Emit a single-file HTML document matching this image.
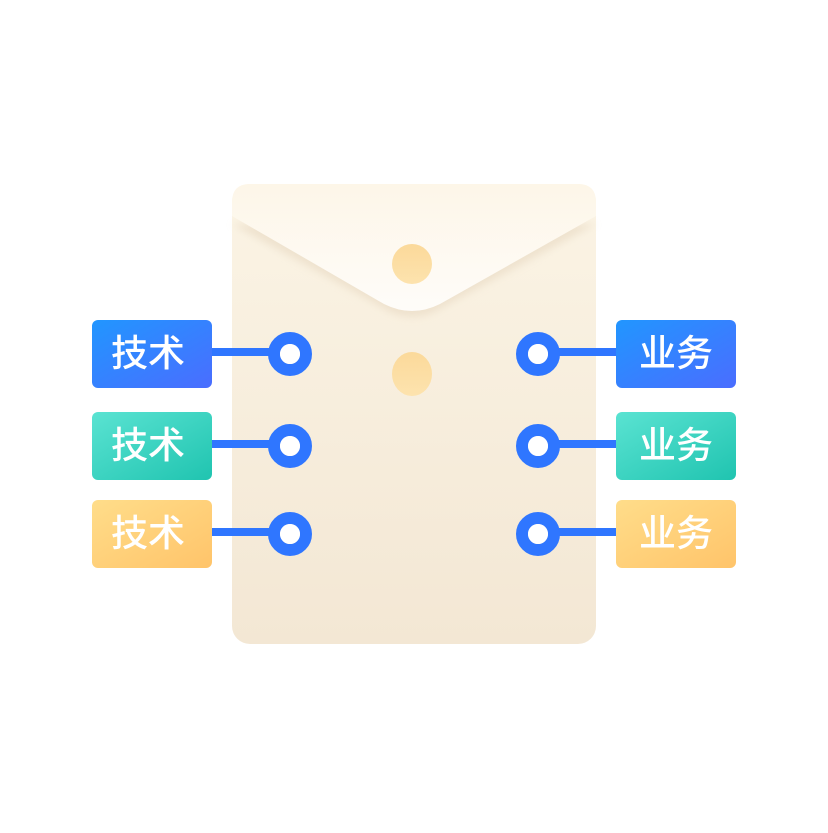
<!DOCTYPE html>
<html><head><meta charset="utf-8"><style>
body{margin:0;width:828px;height:828px;background:#fff;overflow:hidden}
.t{font-family:"Noto Sans CJK SC",sans-serif;font-size:37px;font-weight:500;fill:#fff;text-anchor:middle}
</style></head><body>
<svg width="828" height="828" viewBox="0 0 828 828" xmlns="http://www.w3.org/2000/svg">
<defs>
<linearGradient id="env" x1="0" y1="0" x2="0" y2="1"><stop offset="0" stop-color="#fbf4e5"/><stop offset="1" stop-color="#f3e7d4"/></linearGradient>
<linearGradient id="flap" x1="0" y1="0" x2="0" y2="1"><stop offset="0" stop-color="#fdf6e8"/><stop offset="1" stop-color="#fefcf9"/></linearGradient>
<linearGradient id="dot" x1="0" y1="0" x2="0" y2="1"><stop offset="0" stop-color="#fbd99a"/><stop offset="1" stop-color="#fde3ae"/></linearGradient>
<linearGradient id="b" x1="0" y1="0" x2="1" y2="1"><stop offset="0" stop-color="#2196ff"/><stop offset="1" stop-color="#4a6dff"/></linearGradient>
<linearGradient id="g" x1="0" y1="0" x2="1" y2="1"><stop offset="0" stop-color="#5ae3d2"/><stop offset="1" stop-color="#20c4b0"/></linearGradient>
<linearGradient id="y" x1="0" y1="0" x2="1" y2="1"><stop offset="0" stop-color="#ffdd8a"/><stop offset="1" stop-color="#ffc46a"/></linearGradient>
<filter id="sh" x="-10%" y="-10%" width="120%" height="130%"><feGaussianBlur stdDeviation="4"/></filter>
</defs>
<rect x="232" y="184" width="364" height="460" rx="18" fill="url(#env)"/>
<path d="M232 224 L390 312 Q412 322 434 312 L596 224 Z" fill="#eadcc6" opacity="0.7" filter="url(#sh)"/>
<path d="M232 202 Q232 184 250 184 L578 184 Q596 184 596 202 L596 216 L440 304 Q412 318 384 304 L232 216 Z" fill="url(#flap)"/>
<circle cx="412" cy="264" r="20" fill="url(#dot)"/>
<ellipse cx="412" cy="374" rx="20" ry="22" fill="url(#dot)"/>
<g fill="none" stroke="#2f76ff">
<line x1="210" y1="352" x2="272" y2="352" stroke-width="8"/>
<line x1="210" y1="444" x2="272" y2="444" stroke-width="8"/>
<line x1="210" y1="532" x2="272" y2="532" stroke-width="8"/>
<line x1="556" y1="352" x2="618" y2="352" stroke-width="8"/>
<line x1="556" y1="444" x2="618" y2="444" stroke-width="8"/>
<line x1="556" y1="532" x2="618" y2="532" stroke-width="8"/>
<circle cx="290" cy="354" r="16" stroke-width="12"/>
<circle cx="290" cy="446" r="16" stroke-width="12"/>
<circle cx="290" cy="534" r="16" stroke-width="12"/>
<circle cx="538" cy="354" r="16" stroke-width="12"/>
<circle cx="538" cy="446" r="16" stroke-width="12"/>
<circle cx="538" cy="534" r="16" stroke-width="12"/>
</g>
<g fill="#fff">
<circle cx="290" cy="354" r="10"/><circle cx="290" cy="446" r="10"/><circle cx="290" cy="534" r="10"/>
<circle cx="538" cy="354" r="10"/><circle cx="538" cy="446" r="10"/><circle cx="538" cy="534" r="10"/>
</g>
<rect x="92" y="320" width="120" height="68" rx="6" fill="url(#b)"/>
<rect x="92" y="412" width="120" height="68" rx="6" fill="url(#g)"/>
<rect x="92" y="500" width="120" height="68" rx="6" fill="url(#y)"/>
<rect x="616" y="320" width="120" height="68" rx="6" fill="url(#b)"/>
<rect x="616" y="412" width="120" height="68" rx="6" fill="url(#g)"/>
<rect x="616" y="500" width="120" height="68" rx="6" fill="url(#y)"/>
<text class="t" x="148" y="366">技术</text>
<text class="t" x="148" y="458">技术</text>
<text class="t" x="148" y="546">技术</text>
<text class="t" x="676" y="366">业务</text>
<text class="t" x="676" y="458">业务</text>
<text class="t" x="676" y="546">业务</text>
</svg>
</body></html>
